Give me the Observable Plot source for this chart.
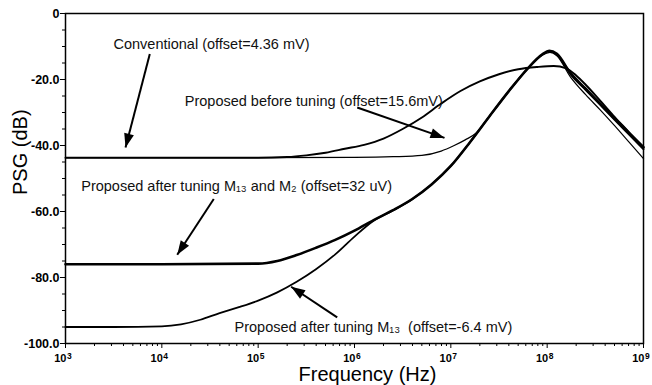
<!DOCTYPE html>
<html><head><meta charset="utf-8">
<script src="https://cdn.jsdelivr.net/npm/d3@7"></script>
<script src="https://cdn.jsdelivr.net/npm/@observablehq/plot@0.6"></script>
<style>body{margin:0;background:#fff}</style>
</head><body><div id="chart"></div>
<script>
// ---- data (frequency in Hz, PSG in dB) ----
const convFreq = [1e3, 1e4, 1e5, 1e6, 2.51e6, 5.01e6, 7.94e6, 1.07e7, 1.41e7, 1.82e7, 2.51e7, 3.98e7, 6.31e7, 8.91e7, 1.07e8, 1.26e8, 1.74e8, 2.51e8, 3.55e8, 5.01e8, 7.08e8, 1e9];
const convVal  = [-43.7, -43.7, -43.7, -43.6, -43.4, -43.0, -41.7, -40.1, -38.3, -36.3, -31.2, -23.6, -16.6, -12.6, -11.8, -12.8, -19.2, -24.6, -29.2, -34.0, -39.0, -44.0];

const beforeFreq = [1e3, 1e4, 1e5, 2e5, 3.16e5, 5.01e5, 7.94e5, 1.26e6, 2e6, 3.16e6, 5.01e6, 7.94e6, 1.26e7, 2e7, 3.16e7, 5.01e7, 7.94e7, 1.17e8, 1.58e8, 2e8, 2.51e8, 3.55e8, 5.01e8, 7.08e8, 1e9];
const beforeVal  = [-43.7, -43.7, -43.7, -43.5, -43.0, -42.2, -41.0, -39.8, -37.9, -35.0, -31.5, -27.3, -23.5, -20.6, -18.4, -16.9, -16.2, -15.9, -16.6, -18.8, -21.6, -26.4, -31.3, -36.0, -40.8];

const m13m2Freq = [1e3, 1e4, 1e5, 1.58e5, 2.51e5, 3.98e5, 6.31e5, 1e6, 1.58e6, 2.51e6, 3.98e6, 6.31e6, 1e7, 1.58e7, 2.51e7, 3.98e7, 6.31e7, 8.91e7, 1.05e8, 1.26e8, 1.74e8, 2.51e8, 3.55e8, 5.01e8, 7.08e8, 1e9];
const m13m2Val  = [-76.0, -76.0, -75.8, -75.0, -73.2, -71.0, -68.6, -65.8, -62.6, -59.6, -56.2, -51.8, -46.2, -39.0, -31.2, -23.6, -16.6, -12.4, -11.3, -12.2, -18.0, -22.8, -27.3, -31.8, -36.2, -40.5];

const m13Freq = [1e3, 3.16e3, 1e4, 1.58e4, 2.51e4, 3.98e4, 6.31e4, 1e5, 1.58e5, 2.51e5, 3.98e5, 6.31e5, 1e6, 1.58e6, 2.51e6, 3.98e6, 6.31e6, 1e7, 1.58e7, 2.51e7, 3.98e7, 6.31e7, 8.91e7, 1.05e8, 1.26e8, 1.74e8, 2.51e8, 3.55e8, 5.01e8, 7.08e8, 1e9];
const m13Val  = [-95.0, -95.0, -94.8, -94.2, -92.8, -90.8, -89.0, -87.0, -84.5, -81.3, -77.5, -73.0, -67.6, -62.8, -59.7, -56.3, -51.8, -46.2, -39.0, -31.2, -23.6, -16.6, -12.4, -11.4, -12.4, -18.4, -23.2, -27.7, -32.2, -36.7, -41.2];

// ---- axes ticks ----
const xMajor = [1e3, 1e4, 1e5, 1e6, 1e7, 1e8, 1e9];
const xExp = ["3", "4", "5", "6", "7", "8", "9"];
const yMajor = [0, -20, -40, -60, -80, -100];
const yLabels = ["0", "-20.0", "-40.0", "-60.0", "-80.0", "-100.0"];
const yMinor = [-5, -10, -15, -25, -30, -35, -45, -50, -55, -65, -70, -75, -85, -90, -95];
const xMinor = [];
for (let d = 3; d < 9; d++) for (let k = 2; k <= 9; k++) xMinor.push(k * 10 ** d);

// ---- annotations ----
const noteText = [
  "Conventional (offset=4.36 mV)",
  "Proposed before tuning (offset=15.6mV)",
  "Proposed after tuning M\u2081\u2083 and M\u2082 (offset=32 uV)",
  "Proposed after tuning M\u2081\u2083 \u00a0(offset=-6.4 mV)"
];
const noteFreq = [3150, 17300, 1456, 56800];
const noteVal  = [-9.2, -26.5, -52.4, -95.2];
const arrowFromFreq = [7500, 1.067e6, 34600, 661000];
const arrowFromVal  = [-12.3, -28.5, -56.2, -92.1];
const arrowToFreq   = [4200, 8.59e6, 14450, 220000];
const arrowToVal    = [-40.6, -37.7, -73.1, -82.8];

// ---- build ----
const W = 652, H = 385, ML = 65, MR = 9, MT = 13, MB = 42;
const rows = (f, v, s) => f.map((x, i) => ({f: x, v: v[i], s}));
const series = [
  ...rows(convFreq, convVal, "conv"),
  ...rows(beforeFreq, beforeVal, "before"),
  ...rows(m13Freq, m13Val, "m13"),
  ...rows(m13m2Freq, m13m2Val, "m13m2")
];
const widths = {conv: 1.2, before: 1.9, m13: 1.8, m13m2: 2.6};

const xs = Plot.scale({x: {type: "log", domain: [1e3, 1e9], range: [ML, W - MR]}});
const ys = Plot.scale({y: {domain: [-100, 0], range: [H - MB, MT]}});
const arrows = arrowFromFreq.map((f, i) => {
  const dx = xs.apply(arrowToFreq[i]) - xs.apply(f);
  const dy = ys.apply(arrowToVal[i]) - ys.apply(arrowFromVal[i]);
  return {x1: f, y1: arrowFromVal[i], x2: arrowToFreq[i], y2: arrowToVal[i], a: Math.atan2(dx, -dy) * 180 / Math.PI};
});
const head = {draw(ctx) { ctx.moveTo(0, 0); ctx.lineTo(-5, 14); ctx.lineTo(5, 14); ctx.closePath(); }};
const notes = noteText.map((t, i) => ({t, f: noteFreq[i], v: noteVal[i]}));

const chart = Plot.plot({
  width: W, height: H,
  marginLeft: ML, marginRight: MR, marginTop: MT, marginBottom: MB,
  style: {fontFamily: "'Liberation Sans', Arial, sans-serif", background: "#fff", color: "#000"},
  x: {type: "log", domain: [1e3, 1e9]},
  y: {domain: [-100, 0]},
  marks: [
    Plot.axisY(yMinor, {tickSize: 3, text: null, label: null, strokeWidth: 1}),
    Plot.axisY(yMajor, {tickSize: 5, tickPadding: 1, label: null, fontSize: 12.5, fontWeight: "bold",
      tickFormat: d => yLabels[yMajor.indexOf(d)], strokeWidth: 1}),
    Plot.axisX(xMinor, {tickSize: 3, text: null, label: null, strokeWidth: 1}),
    Plot.axisX(xMajor, {tickSize: 5, text: null, label: null, strokeWidth: 1}),
    Plot.text(xMajor, {x: d => d, text: () => "10", frameAnchor: "bottom", dy: 18, lineAnchor: "bottom", textAnchor: "end", dx: 1, fontSize: 11, fontWeight: "bold"}),
    Plot.text(xMajor, {x: d => d, text: (d, i) => xExp[i], frameAnchor: "bottom", dy: 15, lineAnchor: "bottom", textAnchor: "start", dx: 1.5, fontSize: 8.5, fontWeight: "bold"}),
    Plot.text(["Frequency (Hz)"], {frameAnchor: "bottom", dy: 37, dx: 13, lineAnchor: "bottom", fontSize: 20}),
    Plot.text(["PSG (dB)"], {y: () => -55, frameAnchor: "left", dx: -45, rotate: -90, fontSize: 20}),
    Plot.line(series, {x: "f", y: "v", z: "s", stroke: "#000", strokeWidth: d => widths[d.s], curve: "monotone-x"}),
    Plot.link(arrows, {x1: "x1", y1: "y1", x2: "x2", y2: "y2", stroke: "#000", strokeWidth: 2}),
    Plot.dot(arrows, {x: "x2", y: "y2", symbol: head, rotate: "a", fill: "#000", stroke: "none", r: 5}),
    Plot.text(notes, {x: "f", y: "v", text: "t", textAnchor: "start", fontSize: 14.5, fill: "#111"}),
    Plot.frame({stroke: "#000", strokeWidth: 1.5})
  ]
});
document.getElementById("chart").appendChild(chart);
</script>
</body></html>
